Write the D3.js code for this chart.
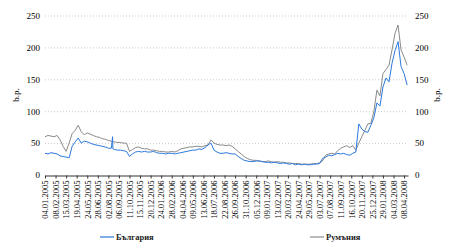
<!DOCTYPE html>
<html>
<head>
<meta charset="utf-8">
<script src="https://cdn.jsdelivr.net/npm/d3@7"></script>
<style>
  body { margin: 0; background: #fff; }
  svg { display: block; }
</style>
</head>
<body>
<script>
// sampled roughly every 10 days (plus one spike day)
const dates = [
  "2005-01-04","2005-01-14","2005-01-24","2005-02-03","2005-02-13","2005-02-23","2005-03-05","2005-03-15","2005-03-25","2005-04-04",
  "2005-04-14","2005-04-24","2005-05-04","2005-05-14","2005-05-24","2005-06-03","2005-06-13","2005-06-23","2005-07-03","2005-07-13",
  "2005-07-23","2005-08-02","2005-08-12","2005-08-16","2005-08-17","2005-08-22","2005-09-01","2005-09-11","2005-09-21","2005-10-01",
  "2005-10-11","2005-10-21","2005-10-31","2005-11-10","2005-11-20","2005-11-30","2005-12-10","2005-12-20","2005-12-30",
  "2006-01-09","2006-01-19","2006-01-29","2006-02-08","2006-02-18","2006-02-28","2006-03-10","2006-03-20","2006-03-30","2006-04-09",
  "2006-04-19","2006-04-29","2006-05-09","2006-05-19","2006-05-29","2006-06-08","2006-06-18","2006-06-28","2006-07-08","2006-07-18",
  "2006-07-28","2006-08-07","2006-08-17","2006-08-27","2006-09-06","2006-09-16","2006-09-26","2006-10-06","2006-10-16","2006-10-26",
  "2006-11-05","2006-11-15","2006-11-25","2006-12-05","2006-12-15","2006-12-25",
  "2007-01-04","2007-01-14","2007-01-24","2007-02-03","2007-02-13","2007-02-23","2007-03-05","2007-03-15","2007-03-25","2007-04-04",
  "2007-04-14","2007-04-24","2007-05-04","2007-05-14","2007-05-24","2007-06-03","2007-06-13","2007-06-23","2007-07-03","2007-07-13",
  "2007-07-23","2007-08-02","2007-08-12","2007-08-22","2007-09-01","2007-09-11","2007-09-21","2007-10-01","2007-10-11","2007-10-21",
  "2007-10-31","2007-11-10","2007-11-20","2007-11-30","2007-12-10","2007-12-20","2007-12-30",
  "2008-01-09","2008-01-19","2008-01-29","2008-02-08","2008-02-18","2008-02-28","2008-03-09","2008-03-19","2008-03-29","2008-04-08",
  "2008-04-18"
]

const bulgaria = [
  34,33,35,34,33,30,29,28,27,45,
  52,58,50,53,52,50,48,47,46,45,
  44,42,42,60,41,40,39,39,38,37,
  29,33,36,37,36,37,36,36,37,
  35,34,34,33,34,34,33,34,35,36,
  37,38,39,39,41,40,43,47,50,39,
  36,34,34,35,34,33,33,29,26,23,
  22,21,21,22,22,21,
  20,20,19,20,19,18,19,18,17,18,
  16,17,16,17,16,16,17,17,18,26,
  28,31,30,32,34,33,34,32,31,34,
  36,80,72,68,67,78,90,
  113,108,138,152,146,175,195,209,170,159,
  141
]

const romania = [
  60,62,61,60,62,55,45,37,50,65,
  70,78,68,63,66,64,62,60,59,57,
  56,54,53,52,52,52,51,51,50,50,
  37,40,43,44,42,41,41,39,39,
  38,37,37,36,36,37,36,38,41,42,
  43,44,44,45,45,44,46,47,55,50,
  48,47,47,46,47,45,41,37,33,29,
  26,24,23,23,22,21,
  21,22,21,20,21,20,20,19,19,18,
  18,18,17,17,17,17,18,18,19,22,
  31,33,34,33,38,42,44,46,43,46,
  39,50,60,70,80,81,100,
  133,124,159,165,172,196,222,235,196,185,
  172
]

const tickDates = [
  "04.01.2005","08.02.2005","15.03.2005","19.04.2005","24.05.2005","28.06.2005","02.08.2005","06.09.2005",
  "11.10.2005","15.11.2005","20.12.2005","24.01.2006","28.02.2006","04.04.2006","09.05.2006","13.06.2006",
  "18.07.2006","22.08.2006","26.09.2006","31.10.2006","05.12.2006","09.01.2007","13.02.2007","20.03.2007",
  "24.04.2007","29.05.2007","03.07.2007","07.08.2007","11.09.2007","16.10.2007","20.11.2007","25.12.2007",
  "29.01.2008","04.03.2008","08.04.2008"
]
const yTicks = [0, 50, 100, 150, 200, 250]
const seriesNames = ["България", "Румъния"]
const seriesColors = ["#2a78de", "#8a8a8a"]

width = 454
height = 249
const parse = d3.timeParse("%Y-%m-%d")
const parseTick = d3.timeParse("%d.%m.%Y")

const x = d3.scaleTime()
  .domain([parse("2005-01-04"), parse("2008-04-21")])
  .range([45, 408])
const y = d3.scaleLinear()
  .domain([0, 250])
  .range([175, 15.5])

const svg = d3.select("body").append("svg")
  .attr("width", width)
  .attr("height", height)
  .style("font-family", "'Liberation Serif', 'Times New Roman', serif")

// dotted grid
svg.append("g")
  .selectAll("line")
  .data(yTicks.filter(d => d > 0))
  .join("line")
  .attr("x1", x.range()[0])
  .attr("x2", x.range()[1])
  .attr("y1", d => y(d) + 0.5)
  .attr("y2", d => y(d) + 0.5)
  .attr("stroke", "#bbb")
  .attr("stroke-width", 0.8)
  .attr("stroke-dasharray", "1,2")

// y axes, left and right, no domain line
const yLeft = svg.append("g")
  .attr("transform", `translate(${x.range()[0]},0)`)
  .call(d3.axisLeft(y).tickValues(yTicks).tickSize(0).tickPadding(5))
yLeft.select(".domain").remove()
const yRight = svg.append("g")
  .attr("transform", `translate(${x.range()[1]},0)`)
  .call(d3.axisRight(y).tickValues(yTicks).tickSize(0).tickPadding(7))
yRight.select(".domain").remove()
svg.selectAll("g.tick text")
  .style("font-family", "'Liberation Serif', serif")
  .style("font-size", "9px")
  .attr("fill", "#000")

// x axis
const xAxis = svg.append("g")
  .attr("transform", `translate(0,${y(0) + 0.5})`)
  .call(d3.axisBottom(x)
    .tickValues(tickDates.map(parseTick))
    .tickFormat(d3.timeFormat("%d.%m.%Y"))
    .tickSize(3)
    .tickSizeOuter(0))
xAxis.select(".domain").attr("stroke", "#333")
xAxis.selectAll(".tick line").attr("stroke", "#333")
xAxis.selectAll(".tick text")
  .style("font-family", "'Liberation Serif', serif")
  .style("font-size", "8.5px")
  .attr("fill", "#000")
  .attr("text-anchor", "end")
  .attr("transform", "rotate(-90)")
  .attr("x", -5)
  .attr("y", 0)
  .attr("dy", "0.33em")

// lines
const line = d3.line()
  .x((d, i) => x(parse(dates[i])))
  .y(d => y(d))

const series = [romania, bulgaria]
const colorsDraw = [seriesColors[1], seriesColors[0]]
svg.append("g")
  .selectAll("path")
  .data(series)
  .join("path")
  .attr("fill", "none")
  .attr("stroke", (d, i) => colorsDraw[i])
  .attr("stroke-width", 1)
  .attr("stroke-linejoin", "round")
  .attr("d", line)

// axis titles
svg.append("text")
  .attr("transform", "translate(19,95) rotate(-90)")
  .attr("text-anchor", "middle")
  .style("font-size", "9px")
  .attr("fill", "#000")
  .text("b.p.")
svg.append("text")
  .attr("transform", "translate(440,95) rotate(-90)")
  .attr("text-anchor", "middle")
  .style("font-size", "9px")
  .attr("fill", "#000")
  .text("b.p.")

// legend
const legendX = [100, 310]
const legend = svg.append("g")
  .selectAll("g")
  .data(seriesNames)
  .join("g")
  .attr("transform", (d, i) => `translate(${legendX[i]},237)`)
legend.append("line")
  .attr("x1", 0).attr("x2", 14)
  .attr("stroke", (d, i) => seriesColors[i])
  .attr("stroke-width", 1.2)
legend.append("text")
  .attr("x", 16)
  .attr("dy", "0.33em")
  .style("font-size", "8.5px")
  .style("font-weight", "bold")
  .attr("fill", "#222")
  .text(d => d)
</script>
</body>
</html>
